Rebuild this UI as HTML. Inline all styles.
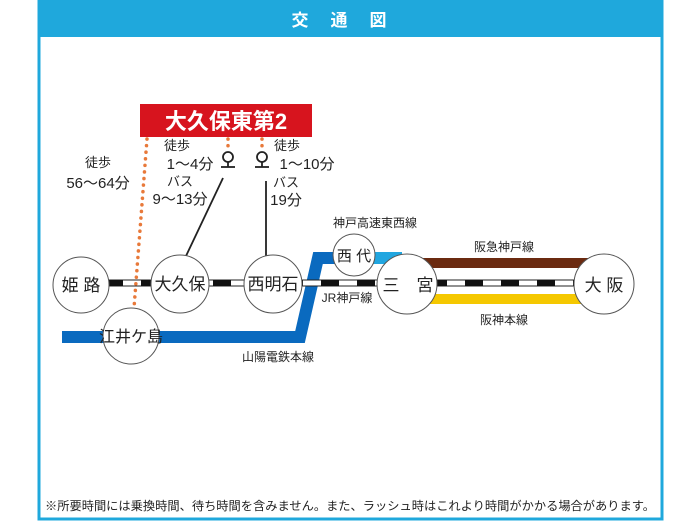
<!DOCTYPE html>
<html><head><meta charset="utf-8"><style>
body{margin:0;background:#fff;width:700px;height:525px;overflow:hidden}
svg{display:block}
text{font-family:"Liberation Sans","Noto Sans CJK JP",sans-serif;fill:#222}
</style></head><body>
<svg width="700" height="525" viewBox="0 0 700 525" xmlns="http://www.w3.org/2000/svg">
<rect x="39" y="1" width="623" height="518" fill="#fff" stroke="#1fa8dc" stroke-width="3"/>
<rect x="38" y="0" width="625" height="37" fill="#1fa8dc"/>
<text x="350" y="26" text-anchor="middle" font-size="17" font-weight="bold" style="fill:#fff" letter-spacing="22">交通図</text>

<polyline points="62,337 300,337 318,258 345,258" fill="none" stroke="#0a6abf" stroke-width="12"/>
<line x1="360" y1="258" x2="402" y2="258" stroke="#21a6e0" stroke-width="12"/>
<rect x="420" y="258" width="170" height="10" fill="#6b2a10"/>
<rect x="420" y="294" width="170" height="10" fill="#f5c800"/>
<rect x="105" y="280" width="480" height="6" fill="#fff" stroke="#222" stroke-width="1"/>
<line x1="105" y1="283" x2="585" y2="283" stroke="#111" stroke-width="6" stroke-dasharray="18,18"/>

<g stroke="#e8793a" stroke-width="3.5" stroke-dasharray="0.1,6.5" stroke-linecap="round" fill="none">
<line x1="147" y1="139" x2="134" y2="308"/>
<line x1="228" y1="139" x2="228" y2="152"/>
<line x1="262" y1="139" x2="262" y2="152"/>
</g>
<g stroke="#222" stroke-width="1.8" fill="#fff">
<circle cx="228" cy="157" r="5"/><line x1="228" y1="162" x2="228" y2="167"/><line x1="221" y1="167" x2="235" y2="167"/>
<circle cx="262" cy="157" r="5"/><line x1="262" y1="162" x2="262" y2="167"/><line x1="255" y1="167" x2="269" y2="167"/>
<line x1="223" y1="178" x2="186" y2="256"/>
<line x1="266" y1="181" x2="266" y2="256"/>
</g>

<g fill="#fff" stroke="#555" stroke-width="1">
<circle cx="81" cy="285" r="28"/>
<circle cx="180" cy="284" r="29"/>
<circle cx="273" cy="284" r="29"/>
<circle cx="131" cy="336" r="28"/>
<circle cx="354" cy="255" r="21"/>
<circle cx="407" cy="284" r="30"/>
<circle cx="604" cy="284" r="30"/>
</g>
<g font-size="17" text-anchor="middle">
<text x="81" y="291">姫 路</text>
<text x="180" y="290">大久保</text>
<text x="273" y="290">西明石</text>
<text x="131" y="342" font-size="16">江井ケ島</text>
<text x="354" y="261" font-size="15">西 代</text>
<text x="408" y="291">三　宮</text>
<text x="604" y="291">大 阪</text>
</g>

<rect x="140" y="104" width="172" height="33" fill="#d7141e"/>
<text x="226" y="129" text-anchor="middle" font-size="22" font-weight="bold" style="fill:#fff">大久保東第2</text>

<g font-size="13">
<text x="98" y="167" text-anchor="middle">徒歩</text>
<text x="98" y="188" text-anchor="middle" font-size="15">56〜64分</text>
<text x="177" y="150" text-anchor="middle" font-size="13">徒歩</text>
<text x="190" y="169" text-anchor="middle" font-size="15">1〜4分</text>
<text x="180" y="186" text-anchor="middle" font-size="13">バス</text>
<text x="180" y="204" text-anchor="middle" font-size="15">9〜13分</text>
<text x="287" y="150" text-anchor="middle" font-size="13">徒歩</text>
<text x="307" y="169" text-anchor="middle" font-size="15">1〜10分</text>
<text x="286" y="187" text-anchor="middle" font-size="13">バス</text>
<text x="286" y="205" text-anchor="middle" font-size="15">19分</text>
<text x="375" y="227" text-anchor="middle" font-size="12">神戸高速東西線</text>
<text x="504" y="251" text-anchor="middle" font-size="12">阪急神戸線</text>
<text x="504" y="324" text-anchor="middle" font-size="12">阪神本線</text>
<text x="347" y="302" text-anchor="middle" font-size="12">JR神戸線</text>
<text x="278" y="361" text-anchor="middle" font-size="12">山陽電鉄本線</text>
</g>
<text x="350" y="510" text-anchor="middle" font-size="12" textLength="610" lengthAdjust="spacingAndGlyphs">※所要時間には乗換時間、待ち時間を含みません。また、ラッシュ時はこれより時間がかかる場合があります。</text>
</svg>
</body></html>
